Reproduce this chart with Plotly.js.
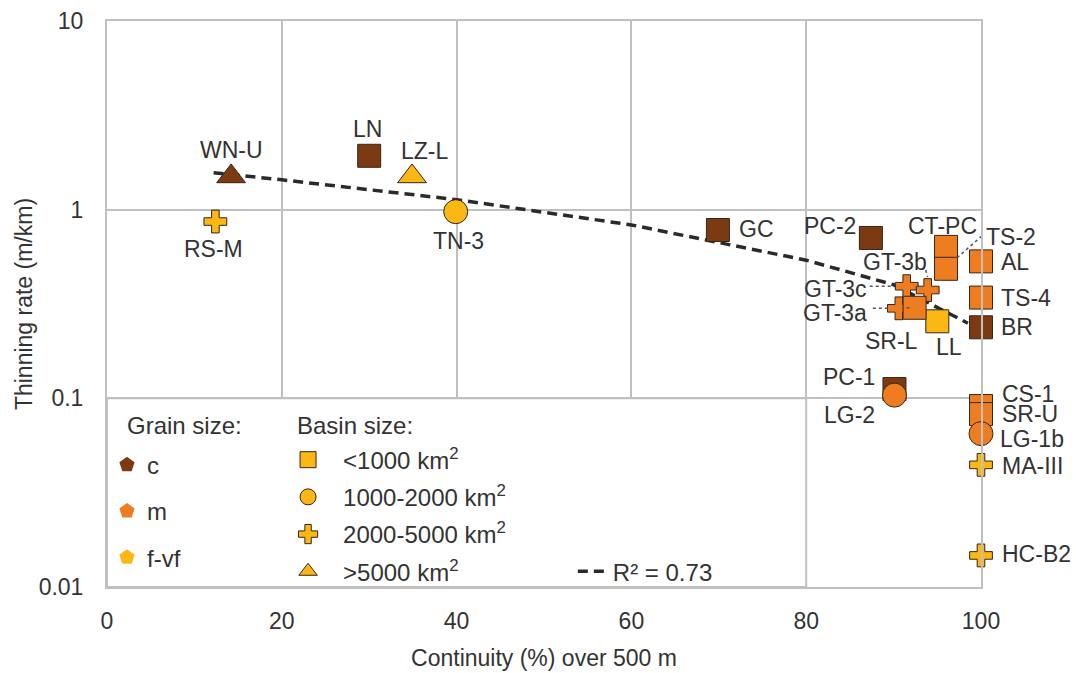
<!DOCTYPE html>
<html>
<head>
<meta charset="utf-8">
<script src="https://cdn.plot.ly/plotly-3.0.1.min.js"></script>
<style>html,body{margin:0;padding:0;background:#fff;}#chart{width:1076px;height:673px;}</style>
</head>
<body>
<div id="chart"></div>
<script>
// ---------- data ----------
const names = ['RS-M','GT-3c','GT-3b','GT-3a','MA-III','HC-B2',
               'LN','GC','PC-2','CT-PC','TS-2','AL','TS-4','BR','LL','SR-L','PC-1','CS-1','SR-U',
               'TN-3','LG-2','LG-1b',
               'WN-U','LZ-L'];
const continuity = [12.4, 91.5, 93.9, 90.6, 100, 100,
                    30, 69.9, 87.4, 96, 96, 100, 100, 100, 95, 92.4, 90.1, 100, 100,
                    39.9, 90.1, 100,
                    14.2, 34.9];
const thinning = [0.865, 0.393, 0.375, 0.30, 0.0444, 0.0147,
                  1.93, 0.78, 0.708, 0.635, 0.486, 0.532, 0.342, 0.238, 0.256, 0.302, 0.112, 0.091, 0.0825,
                  0.976, 0.104, 0.065,
                  1.5, 1.5];
const grain = ['f-vf','m','m','m','f-vf','f-vf',
               'c','c','c','m','m','m','m','c','f-vf','m','c','m','m',
               'f-vf','m','m',
               'c','f-vf'];
const basin = ['2000-5000','2000-5000','2000-5000','2000-5000','2000-5000','2000-5000',
               '<1000','<1000','<1000','<1000','<1000','<1000','<1000','<1000','<1000','<1000','<1000','<1000','<1000',
               '1000-2000','1000-2000','1000-2000',
               '>5000','>5000'];
const grainClasses = ['c','m','f-vf'];
const basinClasses = ['<1000','1000-2000','2000-5000','>5000'];
const basinLabels = ['<1000 km<sup>2</sup>','1000-2000 km<sup>2</sup>','2000-5000 km<sup>2</sup>','>5000 km<sup>2</sup>'];
// dashed trend line (linear fit, R² = 0.73)
const trendX = [12.2, 20, 40, 60, 80, 90, 98.5];
const trendY = [1.57, 1.44, 1.13, 0.83, 0.54, 0.40, 0.25];
const trendLabel = 'R² = 0.73';
const legendTitles = ['Grain size:', 'Basin size:'];
const xTicks = [0, 20, 40, 60, 80, 100];
const yTicks = [0.01, 0.1, 1, 10];
const yTickText = ['0.01', '0.1', '1', '10'];

// ---------- styling ----------
const grainColor = {'c':'#7B3A12','m':'#EE7D22','f-vf':'#FBB714'};
const basinSymbol = {'<1000':'square','1000-2000':'circle','2000-5000':'cross','>5000':'triangle-up'};
const basinSize = {'<1000':23,'1000-2000':24,'2000-5000':19,'>5000':25};
const drawOrder = ['2000-5000','<1000','1000-2000','>5000'];
const outline = '#35251a';
const FONT = '"Liberation Sans", Arial, sans-serif';
const FS = 23;
const LFS = 24;
const TXT = '#333333';
const GRID = '#c0c0c0';

// label placement: [xanchor, xshift(px), yshift(px, up positive)]
const labelPos = {
  'WN-U':['center',0,26], 'LN':['center',-2,27], 'LZ-L':['center',13,25], 'RS-M':['center',-2,-27],
  'TN-3':['center',3,-29], 'GC':['left',20,1], 'PC-2':['right',-14,12], 'CT-PC':['center',-4,21],
  'TS-2':['left',39,32], 'AL':['left',19,-1], 'TS-4':['left',19,0], 'BR':['left',19,0],
  'GT-3b':['center',-33,28], 'GT-3c':['right',-39,-3], 'GT-3a':['right',-31,-5], 'SR-L':['center',-23,-33],
  'LL':['center',12,-26], 'PC-1':['right',-18,12], 'LG-2':['right',-18,-20], 'CS-1':['left',20,12],
  'SR-U':['left',20,0], 'LG-1b':['left',18,-5], 'MA-III':['left',20,-1], 'HC-B2':['left',20,1]
};
// dotted leader lines: [x0,y0,x1,y1] pixel offsets from the point (y up)
const leaders = {
  'TS-2':[11,11,36,33], 'GT-3b':[-2,20,0,13], 'GT-3c':[-37,-3,-14,0],
  'GT-3a':[-26,-6,-11,-1], 'SR-L':[-8,-22,-2,-14]
};

const traces = [];
// trend line (also legend3 entry)
traces.push({
  x: trendX, y: trendY, mode: 'lines', name: trendLabel,
  line: {color: '#2a2a2a', width: 3.5, dash: '10px,6px'},
  legend: 'legend3', showlegend: true, hoverinfo: 'skip'
});
// data points grouped by basin size
drawOrder.forEach(b => {
  const idx = [];
  basin.forEach((v, i) => { if (v === b) idx.push(i); });
  traces.push({
    x: idx.map(i => continuity[i]), y: idx.map(i => thinning[i]),
    text: idx.map(i => names[i]), mode: 'markers', showlegend: false, cliponaxis: false,
    marker: {symbol: basinSymbol[b], size: basinSize[b],
             color: idx.map(i => grainColor[grain[i]]),
             line: {color: outline, width: 1}},
    hovertemplate: '%{text}<extra></extra>'
  });
});
// legend entries: grain size
grainClasses.forEach((g, k) => {
  traces.push({x: [null], y: [null], mode: 'markers', name: g, legend: 'legend',
    legendgroup: 'g' + k,
    marker: {symbol: 'pentagon', size: 22, color: grainColor[g], line: {width: 0}}});
});
// legend entries: basin size
basinClasses.forEach((b, k) => {
  traces.push({x: [null], y: [null], mode: 'markers', name: basinLabels[k], legend: 'legend2',
    legendgroup: 'b' + k,
    marker: {symbol: basinSymbol[b], size: 22, color: grainColor['f-vf'], line: {color: outline, width: 1}}});
});

const annotations = names.map((n, i) => {
  const p = labelPos[n];
  return {x: continuity[i], y: Math.log10(thinning[i]), xref: 'x', yref: 'y', text: n,
    showarrow: false, xanchor: p[0], yanchor: 'middle', xshift: p[1], yshift: p[2], borderpad: 0,
    font: {family: FONT, size: FS, color: TXT}};
});
// legend headings
[[0.021, legendTitles[0]], [0.215, legendTitles[1]]].forEach(h => {
  annotations.push({x: h[0], y: 0.286, xref: 'paper', yref: 'paper', text: h[1], showarrow: false,
    xanchor: 'left', yanchor: 'middle', font: {family: FONT, size: LFS, color: TXT}});
});

const shapes = [{
  type: 'rect', xref: 'x', yref: 'y', x0: 0, x1: 80, y0: 0.01, y1: 0.1,
  fillcolor: '#ffffff', line: {color: GRID, width: 2}, layer: 'above'
}];
Object.keys(leaders).forEach(n => {
  const i = names.indexOf(n), L = leaders[n];
  shapes.push({type: 'line', xref: 'x', yref: 'y', xsizemode: 'pixel', ysizemode: 'pixel',
    xanchor: continuity[i], yanchor: thinning[i], x0: L[0], y0: L[1], x1: L[2], y1: L[3],
    line: {color: '#555555', width: 1.5, dash: 'dot'}, layer: 'above'});
});

const legendFont = {family: FONT, size: LFS, color: TXT};
const layout = {
  width: 1076, height: 673,
  margin: {l: 107, r: 95, t: 21, b: 86},
  paper_bgcolor: '#ffffff', plot_bgcolor: '#ffffff',
  font: {family: FONT, size: FS, color: TXT},
  xaxis: {range: [0, 100], tickvals: xTicks, showgrid: true, gridcolor: GRID, gridwidth: 2,
    zeroline: false, showline: true, linecolor: GRID, linewidth: 2, mirror: true,
    ticks: '', ticklabelstandoff: 12, tickfont: {family: FONT, size: FS, color: TXT},
    title: {text: 'Continuity (%) over 500 m', font: {family: FONT, size: FS, color: TXT}, standoff: 17}},
  yaxis: {type: 'log', range: [-2, 1], tickvals: yTicks, ticktext: yTickText,
    showgrid: true, gridcolor: GRID, gridwidth: 2, zeroline: false,
    showline: true, linecolor: GRID, linewidth: 2, mirror: true,
    ticks: '', ticklabelstandoff: 17, tickfont: {family: FONT, size: FS, color: TXT},
    title: {text: 'Thinning rate (m/km)', font: {family: FONT, size: FS, color: TXT}, standoff: 0}},
  legend: {x: 0.0, y: 0.255, xanchor: 'left', yanchor: 'top', bgcolor: 'rgba(0,0,0,0)',
    font: legendFont, traceorder: 'grouped', tracegroupgap: 12, itemwidth: 30, itemsizing: 'trace'},
  legend2: {x: 0.19, y: 0.264, xanchor: 'left', yanchor: 'top', bgcolor: 'rgba(0,0,0,0)',
    font: legendFont, traceorder: 'grouped', tracegroupgap: 3, itemwidth: 60, itemsizing: 'trace'},
  legend3: {x: 0.533, y: 0.027, xanchor: 'left', yanchor: 'middle', bgcolor: 'rgba(0,0,0,0)',
    font: legendFont, itemwidth: 30},
  annotations: annotations,
  shapes: shapes,
  showlegend: true
};

Plotly.newPlot('chart', traces, layout, {displayModeBar: false, staticPlot: true});
</script>
</body>
</html>
